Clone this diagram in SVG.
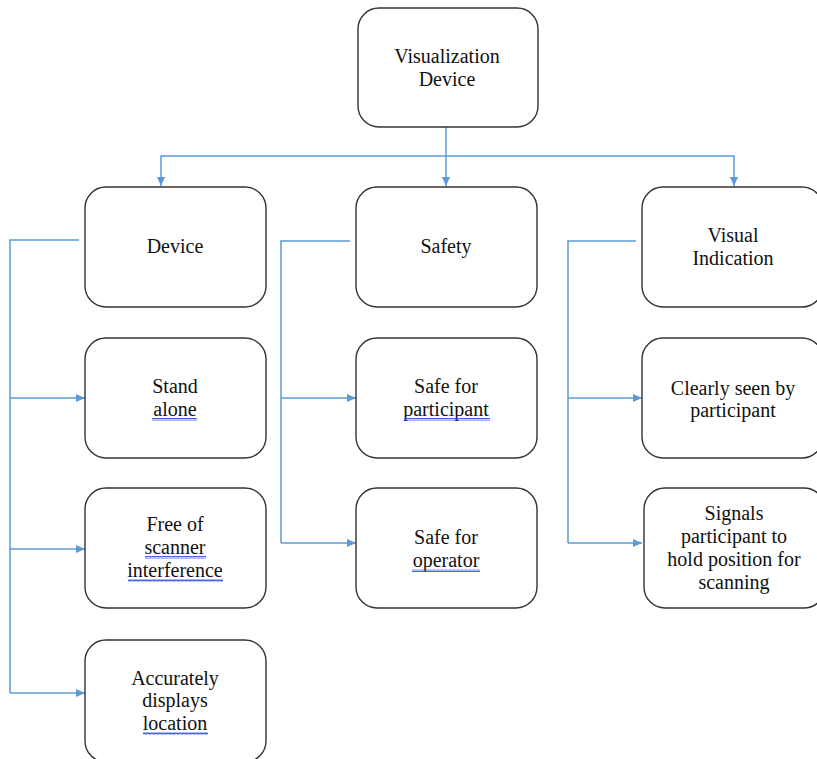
<svg xmlns="http://www.w3.org/2000/svg" width="817" height="759" viewBox="0 0 817 759">
<style>
.box{fill:#fff;stroke:#333;stroke-width:1.4}
.lbl{font-family:"Liberation Serif","Times New Roman",serif;font-size:20px;fill:#111;text-anchor:middle}
.con{fill:none;stroke:#5b9bd5;stroke-width:1.5}
.arr{marker-end:url(#ah)}
.wave{fill:url(#wv)}
</style>
<defs>
<marker id="ah" markerUnits="userSpaceOnUse" markerWidth="10" markerHeight="10" refX="9" refY="4.5" orient="auto">
<path d="M0,0.5 L9,4.5 L0,8.5 z" fill="#5b9bd5"/>
</marker>
<pattern id="wv" patternUnits="userSpaceOnUse" width="4" height="3">
<path d="M0,2.5 L1,0.5 L2,2.5 L3,0.5 L4,2.5" fill="none" stroke="#3355e0" stroke-width="0.9"/>
</pattern>
</defs>
<rect width="817" height="759" fill="#fff"/>
<g id="connectors">
<path class="con arr" d="M446,127 V186"/>
<path class="con arr" d="M446,156 H161 V186"/>
<path class="con arr" d="M446,156 H734 V186"/>
<path class="con" d="M79,240 H10 V693"/>
<path class="con arr" d="M10,398 H85"/>
<path class="con arr" d="M10,549 H85"/>
<path class="con arr" d="M10,693 H85"/>
<path class="con" d="M350,241 H281 V543"/>
<path class="con arr" d="M281,398 H356"/>
<path class="con arr" d="M281,543 H356"/>
<path class="con" d="M636,241 H568 V543"/>
<path class="con arr" d="M568,398 H642"/>
<path class="con arr" d="M568,543 H642"/>
</g>
<g id="n-root">
<rect class="box" x="358" y="8" width="180" height="119" rx="21"/>
<text class="lbl"><tspan x="447" y="63">Visualization</tspan><tspan x="447" y="86">Device</tspan></text>
</g>
<g id="n-device">
<rect class="box" x="85" y="187" width="181" height="120" rx="21"/>
<text class="lbl"><tspan x="175" y="253">Device</tspan></text>
</g>
<g id="n-safety">
<rect class="box" x="356" y="187" width="181" height="120" rx="21"/>
<text class="lbl"><tspan x="446" y="253">Safety</tspan></text>
</g>
<g id="n-visual">
<rect class="box" x="642" y="187" width="181" height="120" rx="21"/>
<text class="lbl"><tspan x="733" y="242">Visual</tspan><tspan x="733" y="265">Indication</tspan></text>
</g>
<g id="n-stand">
<rect class="box" x="85" y="338" width="181" height="120" rx="21"/>
<text class="lbl"><tspan x="175" y="393">Stand</tspan><tspan x="175" y="416">alone</tspan></text>
<rect class="wave" x="152" y="418" width="45" height="3"/>
</g>
<g id="n-free">
<rect class="box" x="85" y="488" width="181" height="120" rx="21"/>
<text class="lbl"><tspan x="175" y="531">Free of</tspan><tspan x="175" y="554">scanner</tspan><tspan x="175" y="577">interference</tspan></text>
<rect class="wave" x="145" y="556" width="61" height="3"/>
<rect class="wave" x="128" y="579" width="95" height="3"/>
</g>
<g id="n-accurate">
<rect class="box" x="85" y="640" width="181" height="122" rx="21"/>
<text class="lbl"><tspan x="175" y="685">Accurately</tspan><tspan x="175" y="707">displays</tspan><tspan x="175" y="730">location</tspan></text>
<rect class="wave" x="143" y="732" width="65" height="3"/>
</g>
<g id="n-safe-part">
<rect class="box" x="356" y="338" width="181" height="120" rx="21"/>
<text class="lbl"><tspan x="446" y="393">Safe for</tspan><tspan x="446" y="416">participant</tspan></text>
<rect class="wave" x="404" y="418" width="86" height="3"/>
</g>
<g id="n-safe-op">
<rect class="box" x="356" y="488" width="181" height="120" rx="21"/>
<text class="lbl"><tspan x="446" y="544">Safe for</tspan><tspan x="446" y="567">operator</tspan></text>
<rect class="wave" x="412" y="569" width="68" height="3"/>
</g>
<g id="n-clearly">
<rect class="box" x="642" y="338" width="181" height="120" rx="21"/>
<text class="lbl"><tspan x="733" y="395">Clearly seen by</tspan><tspan x="733" y="417">participant</tspan></text>
</g>
<g id="n-signals">
<rect class="box" x="644" y="488" width="181" height="120" rx="21"/>
<text class="lbl"><tspan x="734" y="520">Signals</tspan><tspan x="734" y="543">participant to</tspan><tspan x="734" y="566">hold position for</tspan><tspan x="734" y="589">scanning</tspan></text>
</g>
</svg>
